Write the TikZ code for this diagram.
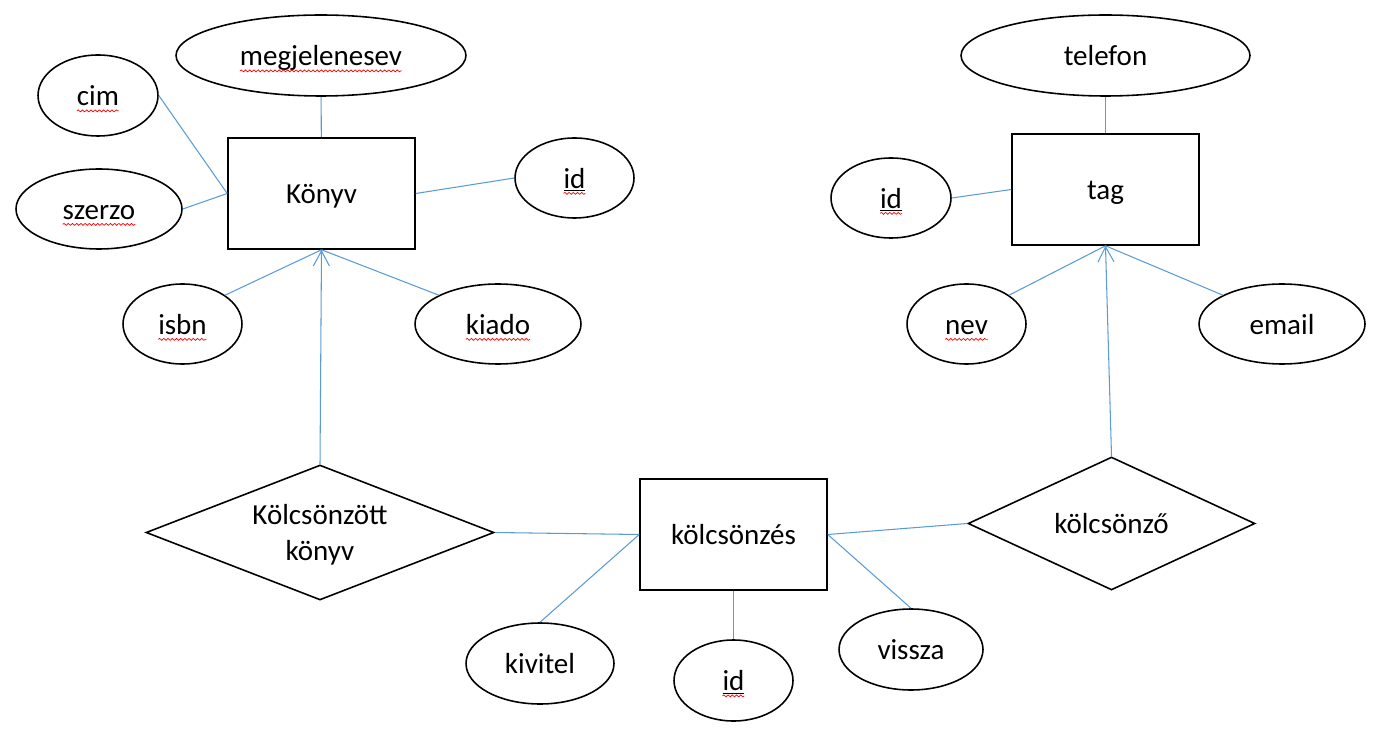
\documentclass[tikz,border=0pt]{standalone}
\usepackage{fontspec}
\setmainfont{Carlito}
\usetikzlibrary{shapes.geometric}
\usetikzlibrary{arrows.meta}
\usetikzlibrary{decorations.pathmorphing}

\definecolor{linkblue}{RGB}{91,155,213}
\newcommand{\sq}[1]{\tikz[baseline=(w.base)]{%
 \node[rectangle, draw=none, inner sep=0pt, outer sep=0pt, minimum width=0pt, minimum height=0pt, text height=, text depth=] (w) {#1};
 \draw[overlay, red, line width=0.4pt, decorate, decoration={snake, amplitude=0.55pt, segment length=2.4pt}]
  ([yshift=-3pt]w.base west) -- ([yshift=-3pt]w.base east);}}

\begin{document}
\begin{tikzpicture}[x=0.02cm, y=-0.02cm,
  font=\fontsize{16.5}{20}\selectfont,
  label text/.style={text height=15pt, text depth=3.5pt},
  attr/.style={ellipse, draw, line width=0.9pt, inner sep=0pt, minimum width=2.38cm, minimum height=1.6cm, label text},
  attrM/.style={attr, minimum width=3.32cm},
  attrL/.style={attr, minimum width=5.8cm, minimum height=1.62cm},
  entity/.style={rectangle, draw, line width=0.9pt, minimum width=3.74cm, minimum height=2.22cm, label text},
  rel/.style={diamond, draw, line width=0.9pt, inner sep=0pt, align=center},
  conn/.style={draw=linkblue, line width=0.6pt},
  >={Straight Barb[length=0.3cm, width=0.32cm]}]
\useasboundingbox (0,0) rectangle (1381,739);

\node[entity] (konyv) at (321.5,193.5) {Könyv};
\node[attrL] (megj) at (321,55.5) {\sq{megjelenesev}};
\node[attr, minimum width=2.4cm, minimum height=1.62cm] (cim) at (98,95.5) {\sq{cim}};
\node[attrM] (szerzo) at (99,209) {\sq{szerzo}};
\node[attr] (kid) at (574.5,178) {\sq{\underline{id}}};
\node[attr] (isbn) at (182.5,324) {\sq{isbn}};
\node[attrM] (kiado) at (498,324) {\sq{kiado}};

\node[entity] (tag) at (1105.5,189.5) {tag};
\node[attrL, minimum width=5.78cm] (telefon) at (1105.5,55.5) {telefon};
\node[attr, minimum width=2.4cm] (tid) at (891,198) {\sq{\underline{id}}};
\node[attr] (nev) at (966.5,324) {\sq{nev}};
\node[attrM] (email) at (1282,324) {email};

\node[entity] (kolcs) at (733.5,534.5) {kölcsönzés};
\node[rel, aspect=2.58, minimum width=6.96cm, minimum height=2.7cm] (kkonyv) at (320,532.5) {\strut Kölcsönzött\\könyv};
\node[rel, label text, aspect=2.16, minimum width=5.74cm, minimum height=2.66cm] (kozo) at (1111.5,523.5) {kölcsönző};
\node[attr, minimum width=2.96cm, minimum height=1.62cm] (kivitel) at (540,663.5) {kivitel};
\node[attr, minimum height=1.62cm] (lid) at (733.5,680.5) {\sq{\underline{id}}};
\node[attr, minimum width=2.88cm, minimum height=1.62cm] (vissza) at (911,649.5) {vissza};

\foreach \a/\b in {megj/konyv, cim.east/konyv.west, szerzo.east/konyv.west,
  konyv.east/kid.west, isbn.north east/konyv.south, kiado.north west/konyv.south,
  telefon/tag, tid.east/tag.west, nev.north east/tag.south, email.north west/tag.south,
  kkonyv.east/kolcs.west, kolcs.east/kozo.west, kivitel.north/kolcs.west,
  lid.north/kolcs.south, vissza.north/kolcs.east} {
 \draw[conn] (\a) -- (\b);
}
\draw[conn, ->] (kkonyv.north) -- (konyv.south);
\draw[conn, ->] (kozo.north) -- (tag.south);
\end{tikzpicture}
\end{document}
